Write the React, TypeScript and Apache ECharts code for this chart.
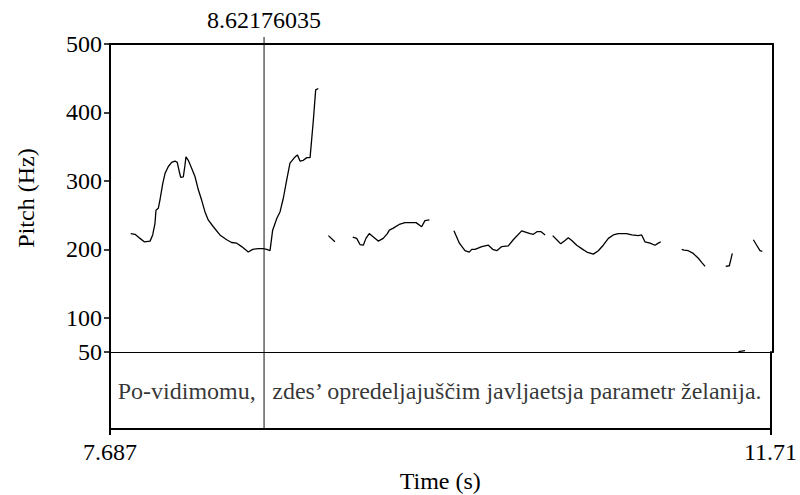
import React, { useEffect, useRef } from "react";
import * as echarts from "echarts";

// ---- data (time in s, pitch in Hz) ----
const timeRange = [7.687, 11.71];
const pitchRange = [50, 500];
const pitchTicks = [50, 100, 200, 300, 400, 500];
const timeTickLabels = ["7.687", "11.71"];
const cursorTime = 8.62176035;
const cursorLabel = "8.62176035";
const tierBounds = [7.687, 8.62176035, 11.71];
const tierTexts = ["Po-vidimomu,", "zdes\u2019 opredeljajuščim javljaetsja parametr želanija."];

const contour1 = [[7.813,223],[7.839,222],[7.869,216],[7.895,211],[7.930,212],[7.946,221],[7.960,238],[7.966,257],[7.980,260],[7.990,272],[8.007,296],[8.021,311],[8.041,321],[8.061,327],[8.081,329],[8.095,327],[8.108,313],[8.116,305],[8.132,306],[8.142,323],[8.148,335],[8.162,330],[8.183,318],[8.203,306],[8.223,287],[8.243,272],[8.263,255],[8.283,243],[8.314,233],[8.354,221],[8.395,214],[8.425,210],[8.456,209],[8.486,204],[8.526,196],[8.553,200],[8.587,201],[8.617,201],[8.638,200],[8.658,198],[8.674,228],[8.699,245],[8.719,255],[8.739,275],[8.759,301],[8.779,326],[8.810,335],[8.824,338],[8.840,329],[8.860,330],[8.881,334],[8.901,334],[8.921,389],[8.935,433],[8.951,435]];
const contour2 = [[9.012,220],[9.052,211]];
const contour3 = [[9.160,218],[9.184,216],[9.204,207],[9.224,206],[9.240,216],[9.260,223],[9.285,218],[9.315,212],[9.345,216],[9.370,223],[9.382,228],[9.406,231],[9.447,237],[9.477,239],[9.544,239],[9.578,233],[9.598,242],[9.625,243]];
const contour4 = [[9.774,227],[9.807,209],[9.841,198],[9.867,196],[9.882,200],[9.902,200],[9.943,204],[9.983,206],[10.009,200],[10.034,198],[10.064,204],[10.104,205],[10.134,214],[10.185,227],[10.236,223],[10.256,222],[10.280,226],[10.301,226],[10.327,221]];
const contour5 = [[10.373,220],[10.398,214],[10.422,208],[10.448,213],[10.468,217],[10.489,213],[10.519,206],[10.549,201],[10.580,196],[10.620,193],[10.650,198],[10.680,206],[10.711,216],[10.741,221],[10.771,223],[10.822,223],[10.853,221],[10.893,220],[10.913,221],[10.933,211],[10.964,209],[10.994,206],[11.014,209],[11.029,211]];
const contour6 = [[11.156,200],[11.170,199],[11.196,198],[11.226,194],[11.257,187],[11.277,181],[11.298,175]];
const contour7 = [[11.423,175],[11.445,176],[11.453,184],[11.463,194]];
const contour8 = [[11.500,50.5],[11.540,52]];
const contour9 = [[11.591,214],[11.611,206],[11.631,198],[11.645,197]];
const contours = [contour1, contour2, contour3, contour4, contour5, contour6, contour7, contour8, contour9];

const FONT = "'Liberation Serif', 'Times New Roman', serif";
const FS = 24;

export default function App() {
  const ref = useRef<HTMLDivElement>(null);
  useEffect(() => {
    if (!ref.current) return;
    const chart = echarts.init(ref.current, undefined, { renderer: "svg" });
    const lineOnly = (extra: any) => ({
      type: "value",
      axisLine: { show: true, lineStyle: { color: "#000", width: 2 } },
      axisTick: { show: false },
      axisLabel: { show: false },
      splitLine: { show: false },
      ...extra,
    });
    const tierMid = tierTexts.map((t, i) => ({ name: t, value: [(tierBounds[i] + tierBounds[i + 1]) / 2, 0.5] }));
    chart.setOption({
      animation: false,
      backgroundColor: "#fff",
      textStyle: { fontFamily: FONT },
      grid: [
        { left: 110, right: 27, top: 44, height: 308 },
        { left: 110, right: 27, top: 352, height: 77 },
      ],
      xAxis: [
        lineOnly({ gridIndex: 0, position: "bottom", min: timeRange[0], max: timeRange[1], axisLine: { show: true, lineStyle: { color: "#000", width: 1 } } }),
        lineOnly({ gridIndex: 0, position: "top", min: timeRange[0], max: timeRange[1] }),
        lineOnly({
          gridIndex: 1, position: "bottom", min: timeRange[0], max: timeRange[1],
          axisTick: { show: true, length: 6, customValues: timeRange, lineStyle: { color: "#000", width: 2 } },
          axisLabel: {
            show: true, customValues: timeRange, margin: 11, color: "#000", fontFamily: FONT, fontSize: FS,
            formatter: (v: number) => (Math.abs(v - timeRange[0]) < 1e-6 ? timeTickLabels[0] : timeTickLabels[1]),
          },
          name: "Time (s)", nameLocation: "middle", nameGap: 40,
          nameTextStyle: { color: "#000", fontFamily: FONT, fontSize: FS },
        }),
      ],
      yAxis: [
        lineOnly({
          gridIndex: 0, position: "left", min: pitchRange[0], max: pitchRange[1],
          axisTick: { show: true, length: 6, customValues: pitchTicks, lineStyle: { color: "#000", width: 1.5 } },
          axisLabel: { show: true, customValues: pitchTicks, margin: 8, color: "#000", fontFamily: FONT, fontSize: FS },
          name: "Pitch (Hz)", nameLocation: "middle", nameGap: 72, nameRotate: 90,
          nameTextStyle: { color: "#000", fontFamily: FONT, fontSize: FS },
        }),
        lineOnly({ gridIndex: 0, position: "right", min: pitchRange[0], max: pitchRange[1] }),
        lineOnly({ gridIndex: 1, position: "left", min: 0, max: 1 }),
        lineOnly({ gridIndex: 1, position: "right", min: 0, max: 1 }),
      ],
      series: [
        ...contours.map((c) => ({
          type: "line", xAxisIndex: 0, yAxisIndex: 0, data: c, showSymbol: false, symbol: "none",
          lineStyle: { color: "#000", width: 1.3 }, silent: true,
        })),
        {
          type: "scatter", xAxisIndex: 2, yAxisIndex: 2, data: tierMid, symbolSize: 1,
          itemStyle: { color: "rgba(0,0,0,0)" }, silent: true,
          label: { show: true, position: "inside", formatter: (p: any) => p.name, color: "#000", fontFamily: FONT, fontSize: FS },
        },
      ],
    });
    const cx = chart.convertToPixel({ xAxisIndex: 0 }, cursorTime) as number;
    const top = chart.convertToPixel({ yAxisIndex: 0 }, pitchRange[1]) as number;
    const bottom = chart.convertToPixel({ yAxisIndex: 2 }, 0) as number;
    chart.setOption({
      graphic: [
        { id: "cursor", type: "line", silent: true, shape: { x1: cx, y1: top - 7, x2: cx, y2: bottom }, style: { stroke: "#111", lineWidth: 1 }, z: 100 },
        { id: "cursorLabel", type: "text", x: cx, y: top - 24, style: { text: cursorLabel, textAlign: "center", textVerticalAlign: "middle", fill: "#000", font: `${FS}px ${FONT}` }, z: 100 },
      ],
    });
    return () => chart.dispose();
  }, []);
  return <div ref={ref} style={{ position: "fixed", left: 0, top: 0, width: 800, height: 495 }} />;
}
